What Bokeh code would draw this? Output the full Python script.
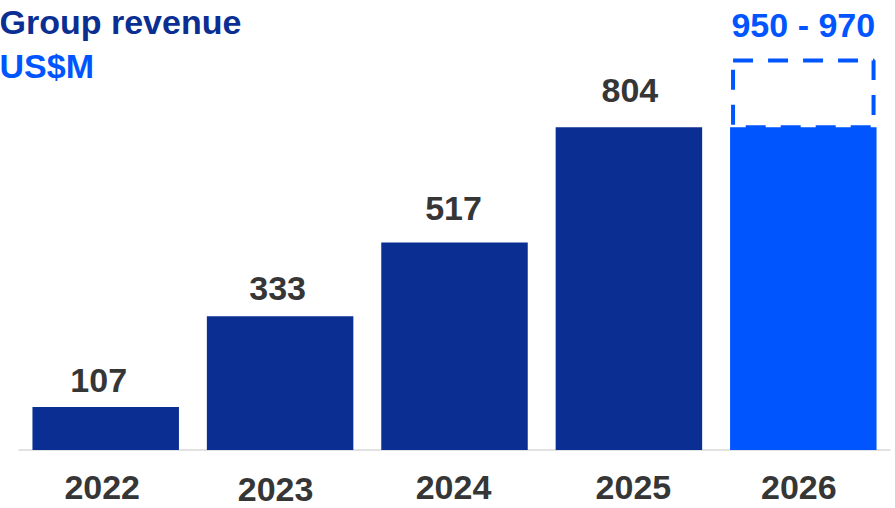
from bokeh.plotting import figure
from bokeh.models import ColumnDataSource, Range1d
from bokeh.core.properties import value
from bokeh.embed import file_html
from bokeh.resources import INLINE

# ---- data ----
years = ["2022", "2023", "2024", "2025", "2026"]
revenue = [107, 333, 517, 804, 804]          # 2026 solid part = 2025 base
value_labels = ["107", "333", "517", "804", ""]
guidance_high = 970
guidance_label = "950 - 970"
title_text = "Group revenue"
unit_text = "US$M"

# ---- styling ----
DARK = "#0B2E92"
BRIGHT = "#0055FF"
GREY_TXT = "#363636"
FONT = "Liberation Sans"
FS = "34px"
bar_colors = [DARK, DARK, DARK, DARK, BRIGHT]
SHIFT = -12.5                     # renderer baseline correction (px)
label_gap_px = [14, 15, 21, 24, 0]
label_dx_px = [-7, -2.5, -1, 1, 0]
year_dy_px = [49.5, 52, 49.5, 49.5, 49.5]
year_dx_px = [-3.5, -4.5, -1, 4.5, -4.5]

W, H = 895, 508
X0_PX, X1_PX = 18, 890          # category band extent in pixels
Y0_PX = 449.5                   # baseline pixel (from top)
KY = 0.4015                     # px per US$M

ux = (X1_PX - X0_PX) / len(years)
x_start = -X0_PX / ux
x_end = len(years) + (W - X1_PX) / ux
y_start = -(H - Y0_PX) / KY
y_end = Y0_PX / KY


def px_x(px):
    return x_start + px / ux


def px_y(py):
    return (Y0_PX - py) / KY


p = figure(width=W, height=H, output_backend="svg", toolbar_location=None,
           x_range=Range1d(x_start, x_end), y_range=Range1d(y_start, y_end),
           min_border=0, min_border_left=0, min_border_right=0,
           min_border_top=0, min_border_bottom=0)
p.axis.visible = False
p.xgrid.visible = False
p.ygrid.visible = False
p.outline_line_color = None
p.background_fill_color = "white"
p.border_fill_color = "white"

xc = [i + 0.5 for i in range(len(years))]
src = ColumnDataSource(dict(x=xc, top=revenue, color=bar_colors, year=years,
                            vlab=value_labels,
                            gap=[-g + SHIFT for g in label_gap_px],
                            gdx=label_dx_px,
                            ydy=[d + SHIFT for d in year_dy_px],
                            ydx=year_dx_px))

# baseline
p.segment(x0=[0], y0=[0], x1=[len(years)], y1=[0], line_color="#D9D9D9", line_width=1.5)

# bars
p.vbar(x="x", top="top", bottom=0, width=0.84, fill_color="color", line_color=None, source=src)

# dashed guidance box on 2026
inset = 3 / ux
gx = xc[-1]
p.quad(left=[gx - 0.42 + inset], right=[gx + 0.42 - inset], bottom=[revenue[-1]],
       top=[guidance_high], fill_color=None, line_color=BRIGHT, line_width=4,
       line_dash="20 15")

# value labels
p.text(x="x", y="top", text="vlab", x_offset="gdx", y_offset="gap", source=src,
       text_font=value(FONT), text_font_size=FS, text_font_style="bold",
       text_color=GREY_TXT, text_align="center", text_baseline="alphabetic")

# year labels
p.text(x="x", y=0, text="year", x_offset="ydx", y_offset="ydy", source=src,
       text_font=value(FONT), text_font_size=FS, text_font_style="bold",
       text_color=GREY_TXT, text_align="center", text_baseline="alphabetic")

# guidance label
p.text(x=[gx], y=[guidance_high], text=[guidance_label], y_offset=-23 + SHIFT,
       text_font=value(FONT), text_font_size=FS, text_font_style="bold",
       text_color=BRIGHT, text_align="center", text_baseline="alphabetic")

# titles
p.text(x=[px_x(-1)], y=[px_y(34)], text=[title_text], y_offset=SHIFT,
       text_font=value(FONT), text_font_size=FS, text_font_style="bold",
       text_color=DARK, text_align="left", text_baseline="alphabetic")
p.text(x=[px_x(-1)], y=[px_y(78)], text=[unit_text], y_offset=SHIFT,
       text_font=value(FONT), text_font_size=FS, text_font_style="bold",
       text_color=BRIGHT, text_align="left", text_baseline="alphabetic")

open("out.html", "w").write(file_html(p, INLINE))
